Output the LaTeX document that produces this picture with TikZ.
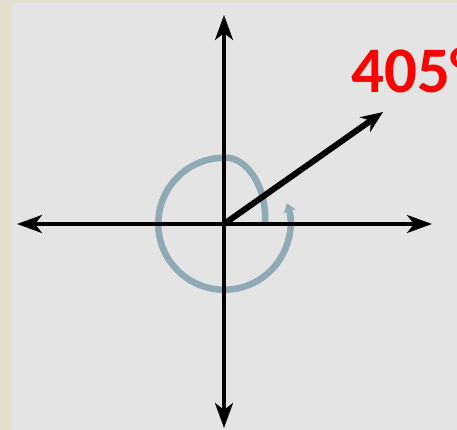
\documentclass[tikz,border=0pt]{standalone}
\usepackage{fontspec}
\newfontfamily\labelfont{Carlito}
\usetikzlibrary{arrows.meta}
\definecolor{beige}{HTML}{E2DFCC}
\definecolor{panel}{HTML}{E4E4E4}
\definecolor{spiral}{HTML}{8FA9B5}
\tikzset{
  axis/.style={line width=3.6pt,black,{Stealth[length=25pt,width=18pt,inset=7pt]}-{Stealth[length=25pt,width=18pt,inset=7pt]}},
  ray/.style={line width=6pt,black,-{Stealth[length=22pt,width=18pt,inset=7pt]}},
  turn/.style={line width=6.5pt,spiral,-{Stealth[length=9pt,width=13pt,inset=3pt]}},
  anglelabel/.style={text=red,font=\labelfont\bfseries\fontsize{65}{65}\selectfont,inner sep=0pt,anchor=base west}
}
\begin{document}
\begin{tikzpicture}[x=1pt,y=1pt]
\useasboundingbox (0,0) rectangle (457,430);
\clip (0,0) rectangle (457,430);
\fill[beige] (0,0) rectangle (457,430);
\fill[panel] (12,0) rectangle (457,427);
\coordinate (O) at (224,206);
\coordinate (top) at (224,415);
\coordinate (bottom) at (224,2);
\coordinate (left) at (17,206);
\coordinate (right) at (432,206);
\coordinate (tip) at (383,318);
\coordinate (s0) at (265,207);
\coordinate (s1) at (230,272);
\draw[turn] (s0) .. controls (267,240) and (250,268) .. (s1) arc[start angle=85,end angle=378,radius=66];
\draw[axis] (bottom) -- (top);
\draw[axis] (left) -- (right);
\draw[ray] (O) -- (tip);
\node[anglelabel] (lbl) at (351,337) {405°};
\end{tikzpicture}
\end{document}
